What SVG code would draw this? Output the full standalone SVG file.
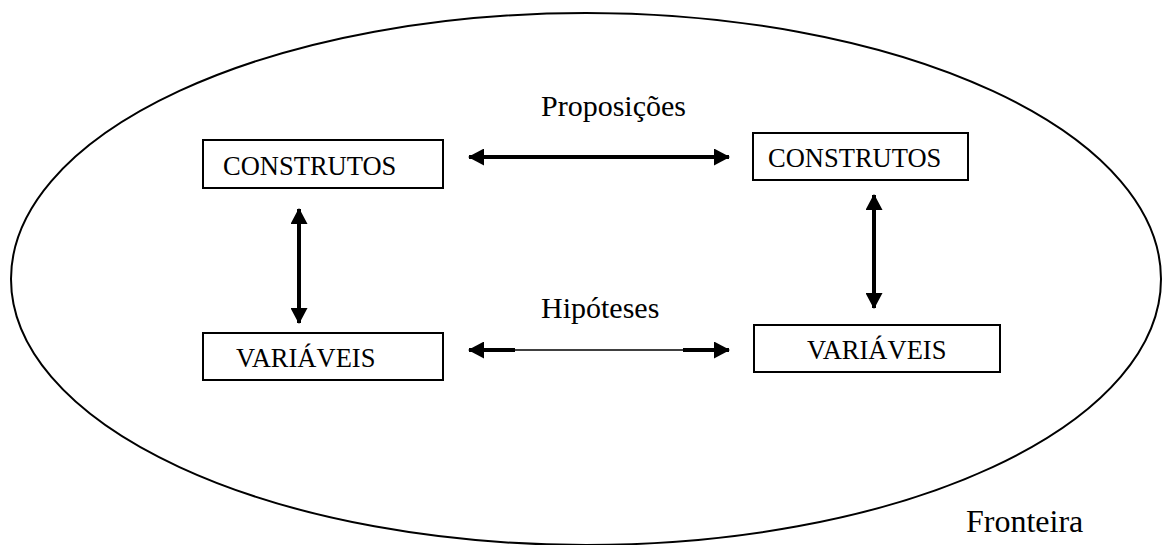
<svg xmlns="http://www.w3.org/2000/svg" width="1163" height="545" viewBox="0 0 1163 545">
  <style>
    .box { fill: #fff; stroke: #000; stroke-width: 2; }
    .lbl { font-family: "Liberation Serif", "Times New Roman", serif; font-size: 26.5px; fill: #000; }
    .cap { font-family: "Liberation Serif", "Times New Roman", serif; font-size: 30px; fill: #000; }
    .thick { stroke: #000; stroke-width: 4; fill: none; }
    .thin { stroke: #000; stroke-width: 1.5; fill: none; }
  </style>
  <defs>
    <marker id="head" viewBox="0 0 16 17" refX="15" refY="8.5" markerWidth="16" markerHeight="17" markerUnits="userSpaceOnUse" orient="auto-start-reverse">
      <path d="M0,0 L16,8.5 L0,17 Z" fill="#000"/>
    </marker>
  </defs>
  <rect width="1163" height="545" fill="#fff"/>

  <!-- boundary -->
  <g id="fronteira">
    <ellipse cx="586" cy="279" rx="575" ry="266" fill="none" stroke="#000" stroke-width="2"/>
    <text class="cap" x="966" y="532" style="font-size:32px">Fronteira</text>
  </g>

  <g id="construtos-esq">
    <rect class="box" x="203" y="140" width="240" height="48"/>
    <text class="lbl" x="223" y="175">CONSTRUTOS</text>
  </g>
  <g id="construtos-dir">
    <rect class="box" x="753" y="133" width="215" height="47"/>
    <text class="lbl" x="768" y="167">CONSTRUTOS</text>
  </g>
  <g id="variaveis-esq">
    <rect class="box" x="203" y="333" width="240" height="47"/>
    <text class="lbl" x="236" y="367">VARIÁVEIS</text>
  </g>
  <g id="variaveis-dir">
    <rect class="box" x="754" y="325" width="246" height="47"/>
    <text class="lbl" x="807" y="359">VARIÁVEIS</text>
  </g>

  <g id="conectores">
    <!-- propositions -->
    <line class="thick" x1="469" y1="157" x2="729" y2="157" marker-start="url(#head)" marker-end="url(#head)"/>
    <text class="cap" x="541" y="116">Proposições</text>
    <!-- hypotheses -->
    <line class="thin" x1="515" y1="350" x2="683" y2="350"/>
    <line class="thick" x1="469" y1="350" x2="515" y2="350" marker-start="url(#head)"/>
    <line class="thick" x1="683" y1="350" x2="729" y2="350" marker-end="url(#head)"/>
    <text class="cap" x="541" y="318">Hipóteses</text>
    <!-- vertical links -->
    <line class="thick" x1="299" y1="209" x2="299" y2="323" marker-start="url(#head)" marker-end="url(#head)"/>
    <line class="thick" x1="874" y1="195" x2="874" y2="308" marker-start="url(#head)" marker-end="url(#head)"/>
  </g>
</svg>
